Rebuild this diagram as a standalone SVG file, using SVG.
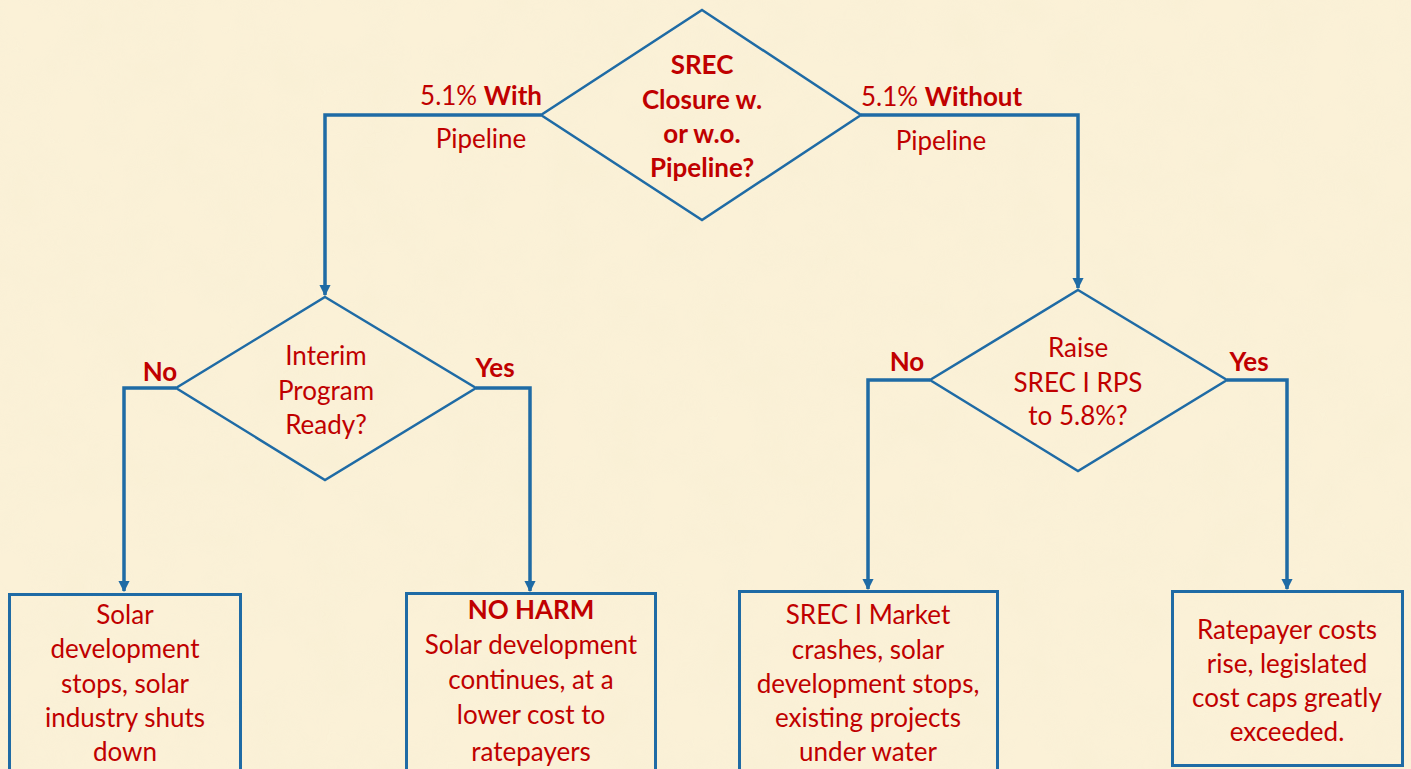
<svg xmlns="http://www.w3.org/2000/svg" width="1411" height="769" viewBox="0 0 1411 769">
  <defs>
    <style>
      .txt { font-family: Lato, "Open Sans", "Liberation Sans", sans-serif; font-size: 26px; fill: #C00000; text-anchor: middle; }
      .b { font-weight: bold; }
      .shape { fill: none; stroke: #1F6BA5; stroke-width: 2.5; }
      .box { fill: none; stroke: #1F6BA5; stroke-width: 3; }
      .link { fill: none; stroke: #1F6BA5; stroke-width: 3.5; }
    </style>
    <marker id="arrow" viewBox="0 0 10 10" refX="9" refY="5" markerWidth="3.2" markerHeight="3.2" orient="auto" markerUnits="strokeWidth">
      <path d="M0,0 L10,5 L0,10 z" fill="#1F6BA5"/>
    </marker>
    <filter id="parchment" x="0" y="0" width="100%" height="100%">
      <feTurbulence type="fractalNoise" baseFrequency="0.02" numOctaves="3" seed="4" result="n"/>
      <feColorMatrix in="n" type="matrix" values="0 0 0 0 0.93  0 0 0 0 0.86  0 0 0 0 0.66  0 0 0 1.2 -0.35"/>
    </filter>
  </defs>

  <!-- parchment background -->
  <rect width="1411" height="769" fill="#FBF1D7"/>
  <rect width="1411" height="769" filter="url(#parchment)" opacity="0.6"/>

  <!-- connectors -->
  <g id="connectors">
    <polyline class="link" points="541,115 325,115 325,295" marker-end="url(#arrow)"/>
    <polyline class="link" points="861,115 1078,115 1078,288" marker-end="url(#arrow)"/>
    <polyline class="link" points="176,388 124,388 124,591" marker-end="url(#arrow)"/>
    <polyline class="link" points="476,388 530,388 530,591" marker-end="url(#arrow)"/>
    <polyline class="link" points="930,380 868,380 868,589" marker-end="url(#arrow)"/>
    <polyline class="link" points="1227,380 1287,380 1287,589" marker-end="url(#arrow)"/>
    <text class="txt" x="542" y="105" style="text-anchor:end">5.1% <tspan class="b">With</tspan></text>
    <text class="txt" x="481" y="148">Pipeline</text>
    <text class="txt" x="861" y="106" style="text-anchor:start">5.1% <tspan class="b">Without</tspan></text>
    <text class="txt" x="941" y="150">Pipeline</text>
    <text class="txt b" x="160" y="381">No</text>
    <text class="txt b" x="495" y="377">Yes</text>
    <text class="txt b" x="907" y="371">No</text>
    <text class="txt b" x="1249" y="371">Yes</text>
  </g>

  <!-- decision: SREC closure -->
  <g id="decision-closure">
    <polygon class="shape" points="702,10 861,115 702,220 541,115"/>
    <text class="txt b" x="702" y="74">SREC</text>
    <text class="txt b" x="702" y="109">Closure w.</text>
    <text class="txt b" x="702" y="143">or w.o.</text>
    <text class="txt b" x="702" y="177">Pipeline?</text>
  </g>

  <!-- decision: interim program -->
  <g id="decision-interim">
    <polygon class="shape" points="325,297 476,388 325,480 176,388"/>
    <text class="txt" x="326" y="365">Interim</text>
    <text class="txt" x="326" y="400">Program</text>
    <text class="txt" x="326" y="434">Ready?</text>
  </g>

  <!-- decision: raise RPS -->
  <g id="decision-raise">
    <polygon class="shape" points="1078,290 1227,380 1078,471 930,380"/>
    <text class="txt" x="1078" y="357">Raise</text>
    <text class="txt" x="1078" y="392">SREC I RPS</text>
    <text class="txt" x="1078" y="425">to 5.8%?</text>
  </g>

  <!-- outcome boxes -->
  <g id="outcome-shutdown">
    <rect class="box" x="9.5" y="594.5" width="231" height="180"/>
    <text class="txt" x="125" y="624">Solar</text>
    <text class="txt" x="125" y="658">development</text>
    <text class="txt" x="125" y="693">stops, solar</text>
    <text class="txt" x="125" y="727">industry shuts</text>
    <text class="txt" x="125" y="761">down</text>
  </g>

  <g id="outcome-noharm">
    <rect class="box" x="406.5" y="593.5" width="249" height="180"/>
    <text class="txt b" x="531" y="619">NO HARM</text>
    <text class="txt" x="531" y="654">Solar development</text>
    <text class="txt" x="531" y="689">continues, at a</text>
    <text class="txt" x="531" y="724">lower cost to</text>
    <text class="txt" x="531" y="761">ratepayers</text>
  </g>

  <g id="outcome-crash">
    <rect class="box" x="739.5" y="591.5" width="258" height="182"/>
    <text class="txt" x="868" y="624">SREC I Market</text>
    <text class="txt" x="868" y="659">crashes, solar</text>
    <text class="txt" x="868" y="693">development stops,</text>
    <text class="txt" x="868" y="727">existing projects</text>
    <text class="txt" x="868" y="761">under water</text>
  </g>

  <g id="outcome-costs">
    <rect class="box" x="1172.5" y="591.5" width="230" height="174"/>
    <text class="txt" x="1287" y="639">Ratepayer costs</text>
    <text class="txt" x="1287" y="673">rise, legislated</text>
    <text class="txt" x="1287" y="707">cost caps greatly</text>
    <text class="txt" x="1287" y="741">exceeded.</text>
  </g>
</svg>
